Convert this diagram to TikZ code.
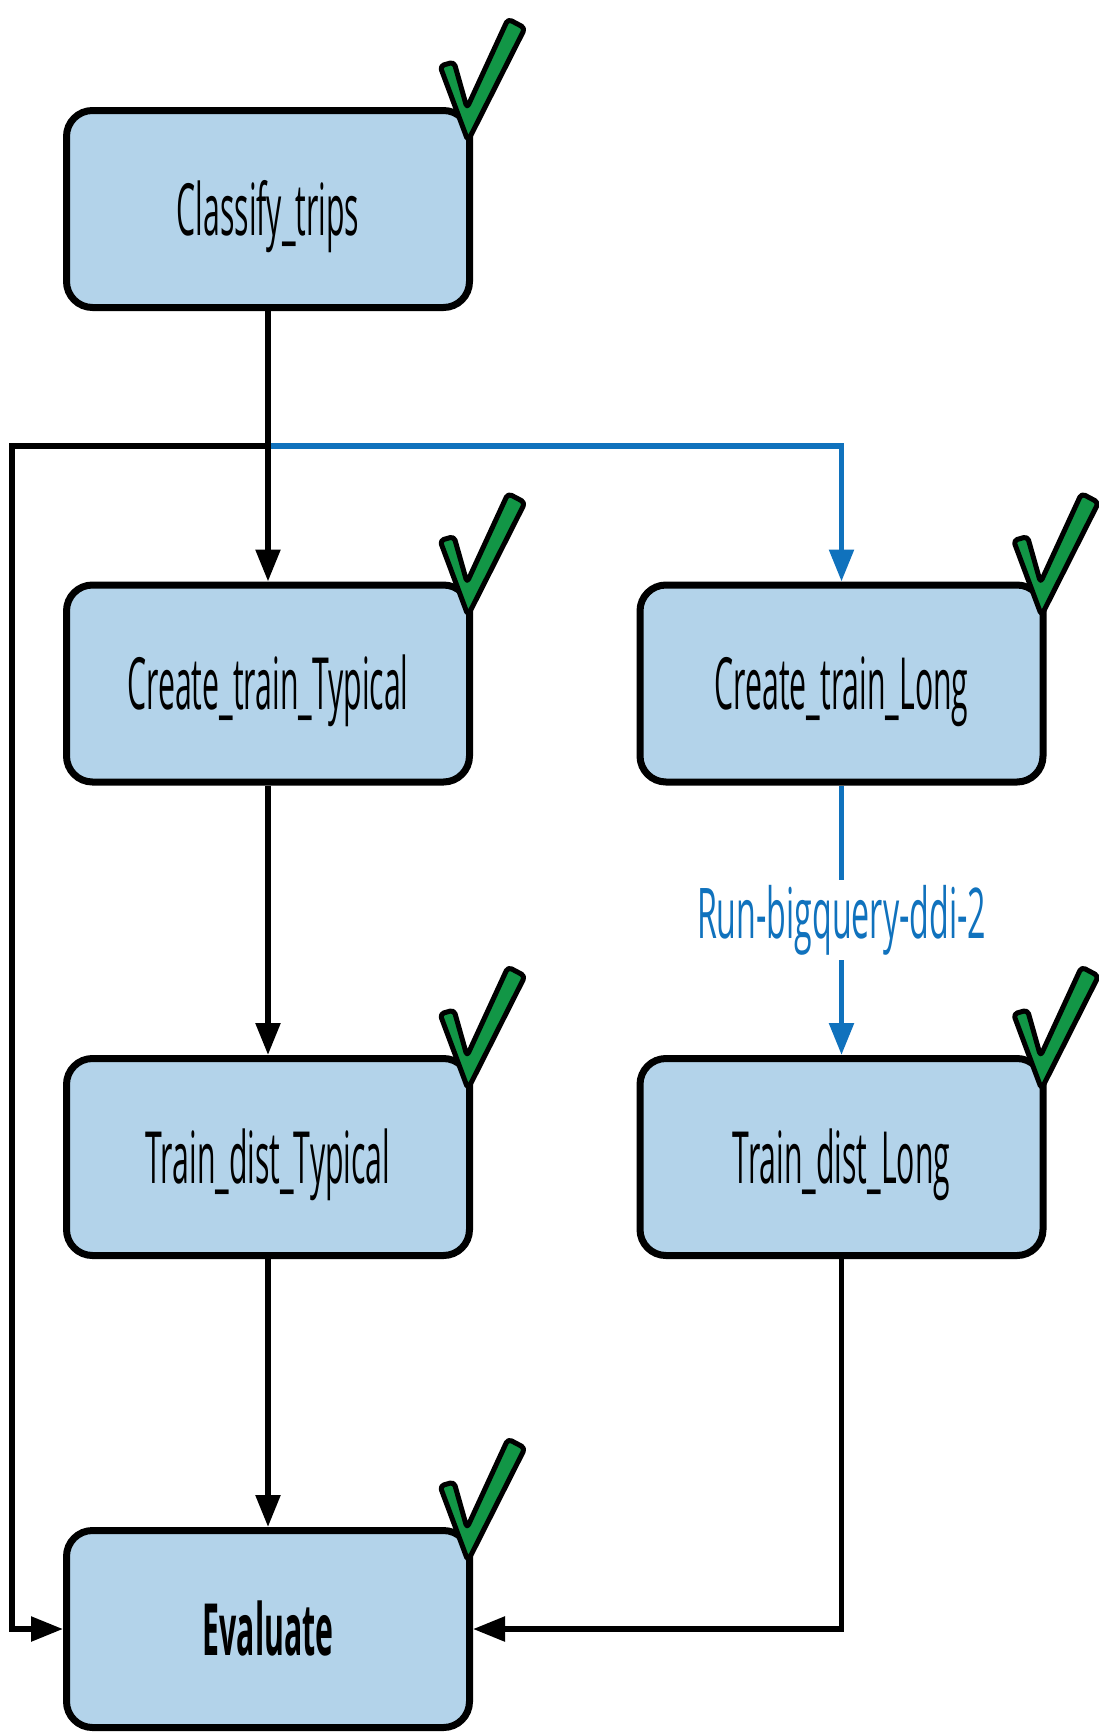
\documentclass[tikz,border=0pt]{standalone}
\usepackage{fontspec}
\setmainfont{Open Sans}
\newfontfamily\cond[FakeStretch=0.42]{Open Sans}
\newfontfamily\condlbl[FakeStretch=0.46]{Open Sans}
\usetikzlibrary{arrows.meta}
\definecolor{boxfill}{RGB}{179,211,234}
\definecolor{flowblue}{RGB}{16,114,189}
\definecolor{checkgreen}{RGB}{18,150,70}
\begin{document}
\begin{tikzpicture}[x=1pt,y=-1pt,
  task/.style={draw=black, line width=7pt, fill=boxfill, rounded corners=26pt,
    minimum width=403pt, minimum height=197pt, inner sep=0pt,
    text height=52pt, text depth=0pt,
    font=\cond\fontsize{72}{80}\selectfont},
  conn/.style={line width=5.5pt, -{Triangle[length=32pt,width=24pt]}},
  blueconn/.style={conn, draw=flowblue},
  lbl/.style={fill=white, text=flowblue, inner sep=5pt, font=\condlbl\fontsize{70}{78}\selectfont},
  checkmk/.style={draw=black, fill=checkgreen, line width=5pt, rounded corners=4pt, line join=round}
]
\useasboundingbox (0,0) rectangle (1099,1732);
\node[task] (ct)  at (268,209) {Classify\_trips};
\node[task] (ctt) at (268,683.5) {Create\_train\_Typical};
\node[task] (ctl) at (841.5,683.5) {Create\_train\_Long};
\node[task] (tdt) at (268,1157) {Train\_dist\_Typical};
\node[task] (tdl) at (841.5,1157) {Train\_dist\_Long};
\node[task, font=\cond\bfseries\fontsize{72}{80}\selectfont] (ev) at (268,1629) {Evaluate};
\coordinate (split) at (268,446);
\coordinate (lc) at (12,446);
% blue branch
\draw[blueconn] (split) -| (ctl.north);
\draw[blueconn] (ctl.south) -- node[lbl] {Run-bigquery-ddi-2} (tdl.north);
% black connectors
\draw[conn] (ct.south) -- (ctt.north);
\draw[conn] (split) -- (lc) |- (ev.west);
\draw[conn] (ctt.south) -- (tdt.north);
\draw[conn] (tdt.south) -- (ev.north);
\draw[conn] (tdl.south) |- (ev.east);
% check marks
\foreach \n in {ct,ctt,ctl,tdt,tdl,ev}
  \draw[checkmk] ([shift={(-33,-41)}]\n.north east) -- ([shift={(-19,-45)}]\n.north east)
     -- ([shift={(-6,1)}]\n.north east) -- ([shift={(35,-88)}]\n.north east)
     -- ([shift={(52,-79)}]\n.north east) -- ([shift={(-5,34)}]\n.north east) -- cycle;
\end{tikzpicture}
\end{document}
